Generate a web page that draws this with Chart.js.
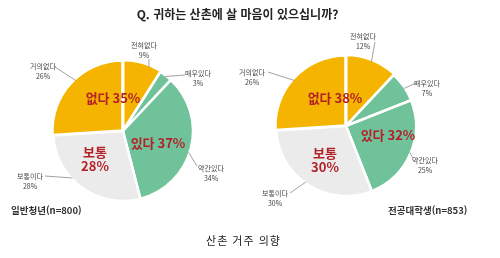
<!DOCTYPE html>
<html lang="ko">
<head>
<meta charset="utf-8">
<script src="https://cdn.jsdelivr.net/npm/chart.js@4"></script>
<style>
  html, body { margin: 0; padding: 0; background: #fff; }
  #wrap { position: relative; width: 500px; height: 258px; overflow: hidden;
          font-family: "Noto Sans CJK KR", "Noto Sans", sans-serif; color: #222; }
  #wrap canvas { position: absolute; left: 0; top: 0; }
  .txt { position: absolute; white-space: nowrap; }
  #title { left: 0; width: 475px; top: 5px; text-align: center; font-size: 12px; font-weight: 700; }
  #capLeft { left: 11px; top: 203px; font-size: 9.5px; font-weight: 700; color: #333; }
  #capRight { left: 388px; top: 203px; font-size: 9.5px; font-weight: 700; color: #333; }
  #caption { left: 0; width: 487px; top: 232px; text-align: center; font-size: 11px; letter-spacing: 1px; }
</style>
</head>
<body>
<div id="wrap">
  <canvas id="youthChart" width="500" height="258"></canvas>
  <canvas id="studentChart" width="500" height="258"></canvas>
  <div class="txt" id="title">Q. 귀하는 산촌에 살 마음이 있으십니까?</div>
  <div class="txt" id="capLeft">일반청년(n=800)</div>
  <div class="txt" id="capRight">전공대학생(n=853)</div>
  <div class="txt" id="caption">산촌 거주 의향</div>
</div>
<script>
// === Data ===
const answerLabels = ['전혀없다', '매우있다', '약간있다', '보통이다', '거의없다'];
const youthValues = [9, 3, 34, 28, 26];
const studentValues = [12, 7, 25, 30, 26];

const groupNames = ['없다', '있다', '보통'];
const youthGroups = [35, 37, 28];
const studentGroups = [38, 32, 30];

const sliceColors = ['#F4B400', '#70C29A', '#70C29A', '#EBEBEB', '#F4B400'];

// === Label layout (relative to pie centre) ===
// callout: fraction along the slice edge, elbow point, text position
const youthCallouts = [
    { frac: 0.68, elbow: [26, -72], text: [21, -86] },
    { frac: 0.5, elbow: [62, -56], text: [75, -58] },
    { frac: 0.53, elbow: [74, 35], text: [88, 37] },
    { frac: 0.61, elbow: [-78, 45], text: [-93, 45] },
    { frac: 0.54, elbow: [-68, -64], text: [-80, -65] },
];
const studentCallouts = [
    { frac: 0.5, elbow: [29, -84], text: [17, -90] },
    { frac: 0.55, elbow: [70, -43], text: [81, -43] },
    { frac: 0.49, elbow: [67, 32], text: [79, 34] },
    { frac: 0.53, elbow: [-56, 67], text: [-71, 67] },
    { frac: 0.48, elbow: [-78, -54], text: [-94, -54] },
];
// group labels: [dx, dy] for each group, 보통 is on two lines
const youthGroupPos = [[-10, -33], [35, 12], [-28, 21]];
const studentGroupPos = [[-11, -28], [42, 9], [-21, 27]];

const pieLabels = {
    id: 'pieLabels',
    afterDatasetsDraw(chart, args, opts) {
        const ctx = chart.ctx;
        const meta = chart.getDatasetMeta(0);
        const values = chart.data.datasets[0].data;
        const first = meta.data[0].getProps(['x', 'y', 'outerRadius']);
        const cx = first.x, cy = first.y;

        ctx.save();
        // callouts
        meta.data.forEach((arc, i) => {
            const p = arc.getProps(['x', 'y', 'startAngle', 'endAngle', 'outerRadius']);
            const c = opts.callouts[i];
            const a = p.startAngle + c.frac * (p.endAngle - p.startAngle);
            const ex = p.x + Math.cos(a) * (p.outerRadius - 1);
            const ey = p.y + Math.sin(a) * (p.outerRadius - 1);
            ctx.strokeStyle = '#8a8a8a';
            ctx.lineWidth = 0.8;
            ctx.beginPath();
            ctx.moveTo(ex, ey);
            ctx.lineTo(cx + c.elbow[0], cy + c.elbow[1]);
            ctx.stroke();

            ctx.fillStyle = '#444';
            ctx.textAlign = 'center';
            ctx.textBaseline = 'middle';
            ctx.font = '7px "Noto Sans CJK KR", sans-serif';
            ctx.fillText(chart.data.labels[i], cx + c.text[0], cy + c.text[1]);
            ctx.fillText(values[i] + '%', cx + c.text[0], cy + c.text[1] + 10);
        });

        // group labels
        ctx.fillStyle = '#B3222A';
        ctx.font = 'bold 13px "Noto Sans CJK KR", sans-serif';
        ctx.textAlign = 'center';
        ctx.textBaseline = 'middle';
        opts.groups.forEach((v, i) => {
            const [dx, dy] = opts.groupPos[i];
            if (i === 2) {
                ctx.fillText(groupNames[i], cx + dx, cy + dy);
                ctx.fillText(v + '%', cx + dx, cy + dy + 14);
            } else {
                ctx.fillText(groupNames[i] + ' ' + v + '%', cx + dx, cy + dy);
            }
        });
        ctx.restore();
    }
};

function makePie(id, values, center, callouts, groups, groupPos) {
    const size = 200;
    const [x, y] = center;
    return new Chart(document.getElementById(id), {
        type: 'pie',
        data: {
            labels: answerLabels,
            datasets: [{
                data: values,
                backgroundColor: sliceColors,
                borderColor: '#fff',
                borderWidth: 2.5,
                offset: [3, 0, 0, 0, 3],
            }]
        },
        options: {
            responsive: false,
            animation: false,
            devicePixelRatio: 1,
            radius: 70,
            layout: {
                padding: {
                    left: x - size / 2,
                    right: 500 - x - size / 2,
                    top: y - size / 2,
                    bottom: 258 - y - size / 2,
                }
            },
            plugins: {
                legend: { display: false },
                tooltip: { enabled: false },
                pieLabels: { callouts, groups, groupPos },
            }
        },
        plugins: [pieLabels]
    });
}

document.addEventListener('DOMContentLoaded', () => {
    makePie('youthChart', youthValues, [123, 131], youthCallouts, youthGroups, youthGroupPos);
    makePie('studentChart', studentValues, [346, 126], studentCallouts, studentGroups, studentGroupPos);
});
</script>
</body>
</html>
